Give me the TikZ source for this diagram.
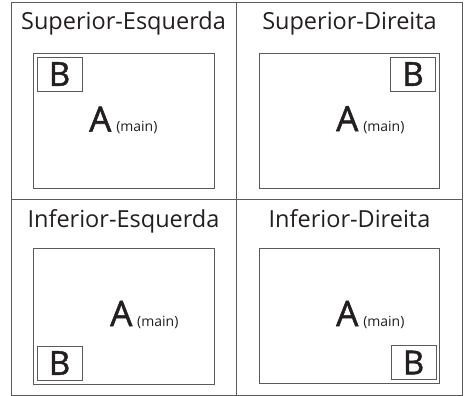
\documentclass[tikz,border=0pt]{standalone}
\usepackage{fontspec}
\setmainfont{Open Sans}
\newfontfamily\heavyfont[FakeBold=1.5]{Open Sans}
\definecolor{linegray}{HTML}{5A5A5A}
\definecolor{ink}{HTML}{231F20}
\begin{document}
\begin{tikzpicture}[x=1pt,y=-1pt,
  frame/.style={draw=linegray,line width=1pt},
  screen/.style={draw=linegray,line width=0.9pt},
  pipbox/.style={draw=linegray,line width=0.9pt,minimum width=45pt,minimum height=34pt,inner sep=0pt,
     font=\heavyfont\fontsize{33}{33}\selectfont,text=ink},
  title/.style={anchor=base,inner sep=0pt,font=\fontsize{23.5}{23.5}\selectfont,text=ink},
  bigA/.style={anchor=base west,inner sep=0pt,font=\heavyfont\fontsize{35}{35}\selectfont,text=ink},
  mainlbl/.style={anchor=base west,inner sep=0pt,font=\fontsize{14}{14}\selectfont,text=ink}]
\useasboundingbox (0,0) rectangle (466,396);
% grid
\draw[frame] (11,3) rectangle (462.5,395);
\draw[frame] (236.5,3) -- (236.5,395);
\draw[frame] (11,199.5) -- (462.5,199.5);
% titles
\node[title] (t1) at (123.5,30) {Superior-Esquerda};
\node[title] (t2) at (349.5,30) {Superior-Direita};
\node[title] (t3) at (123.5,227) {Inferior-Esquerda};
\node[title] (t4) at (349.5,227) {Inferior-Direita};
% screens
\draw[screen] (33,53) rectangle (214,188.5);
\draw[screen] (259,53) rectangle (439,188.5);
\draw[screen] (33,248) rectangle (214,384);
\draw[screen] (259,248.5) rectangle (439,383.5);
% PiP boxes
\node[pipbox] (b1) at (59.5,74) {B};
\node[pipbox] (b2) at (413,74) {B};
\node[pipbox] (b3) at (59.5,363) {B};
\node[pipbox] (b4) at (413.5,362.5) {B};
% A labels
\node[bigA] (a1) at (89,131.7) {A};
\node[mainlbl] (m1) at ([xshift=4.5pt]a1.base east) {(main)};
\node[bigA] (a2) at (336,131.2) {A};
\node[mainlbl] (m2) at ([xshift=4.5pt]a2.base east) {(main)};
\node[bigA] (a3) at (110,326) {A};
\node[mainlbl] (m3) at ([xshift=4.5pt]a3.base east) {(main)};
\node[bigA] (a4) at (336,326) {A};
\node[mainlbl] (m4) at ([xshift=4.5pt]a4.base east) {(main)};
\end{tikzpicture}
\end{document}
